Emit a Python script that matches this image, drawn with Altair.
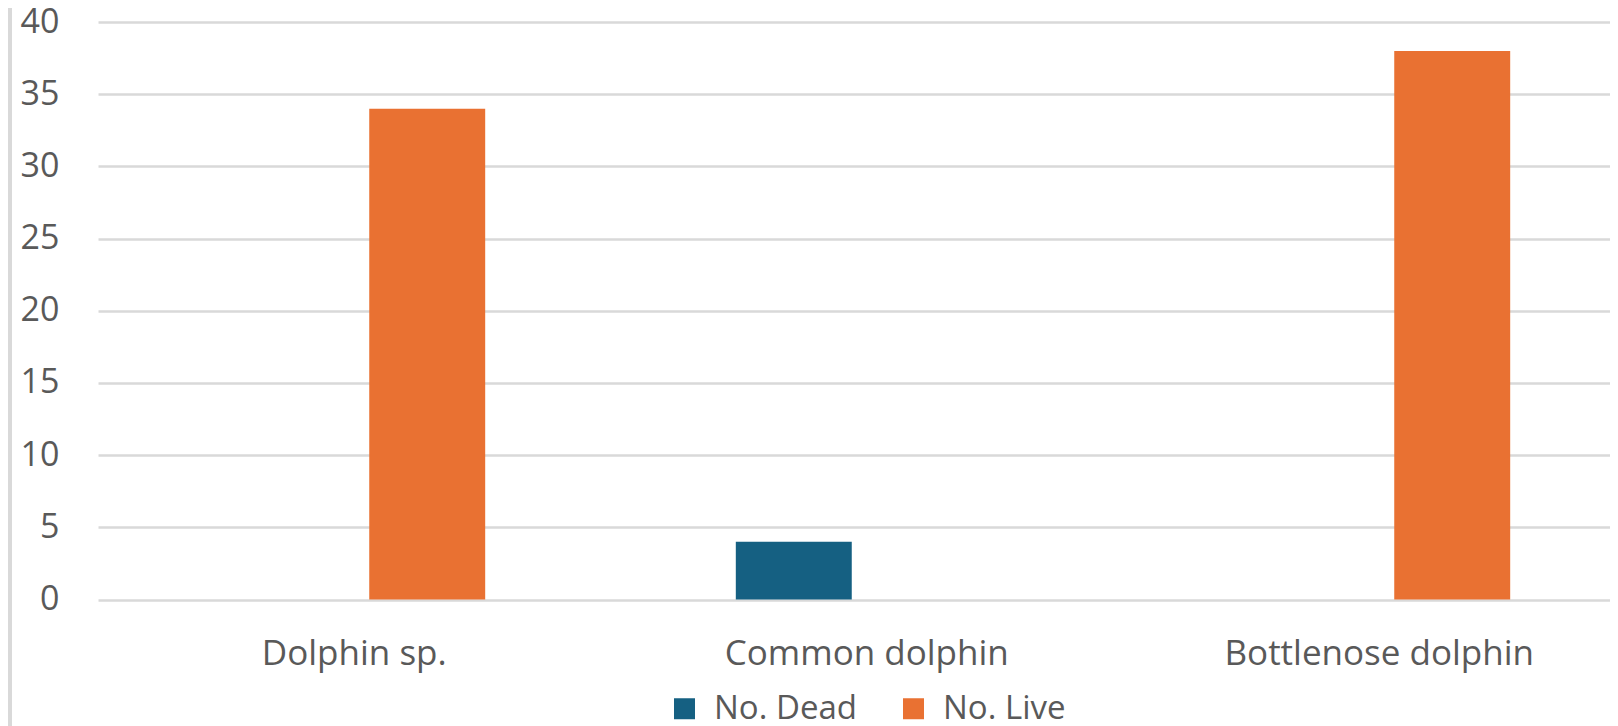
import altair as alt
import pandas as pd

categories = ["Dolphin sp.", "Common dolphin", "Bottlenose dolphin"]
series = ["No. Dead", "No. Live"]
dead = [0, 4, 0]
live = [34, 0, 38]
y_ticks = [0, 5, 10, 15, 20, 25, 30, 35, 40]
colors = ["#156082", "#E97132"]

rows = []
for c, d, l in zip(categories, dead, live):
    rows.append({"category": c, "series": series[0], "value": d})
    rows.append({"category": c, "series": series[1], "value": l})
df = pd.DataFrame(rows)

FONT = "Open Sans"
TXT = "#595959"
GRID = "#d9d9d9"

W = 1512
H = 577.5

bars = alt.Chart(df).mark_bar().encode(
    x=alt.X(
        "category:N",
        sort=categories,
        scale=alt.Scale(range=[0, 1537.5], paddingInner=0.489, paddingOuter=0.2445),
        axis=alt.Axis(
            title=None, domain=False, ticks=False, labelFontSize=35, labelFont=FONT,
            labelColor=TXT, labelPadding=37, labelAngle=0, labelLimit=0,
        ),
    ),
    xOffset=alt.XOffset(
        "series:N", sort=series,
        scale=alt.Scale(paddingInner=0.2055, paddingOuter=0),
    ),
    y=alt.Y(
        "value:Q",
        scale=alt.Scale(domain=[0, 40], nice=False),
        axis=alt.Axis(
            title=None, values=y_ticks, domain=False, ticks=False,
            grid=True, gridColor=GRID, gridWidth=2.5,
            labelFontSize=34, labelFont=FONT, labelColor=TXT,
            labelPadding=39, minExtent=90, maxExtent=90,
        ),
    ),
    color=alt.Color(
        "series:N",
        scale=alt.Scale(domain=series, range=colors),
        legend=alt.Legend(
            title=None, orient="none", direction="horizontal",
            legendX=570, legendY=670, padding=0,
            symbolType="square", symbolSize=441, symbolStrokeWidth=0,
            labelFontSize=33, labelFont=FONT, labelColor=TXT,
            labelOffset=13, columnPadding=40, labelLimit=0,
        ),
    ),
)

edge = alt.Chart(pd.DataFrame({"v": [0]})).mark_rule(color="#d9d9d9", strokeWidth=4).encode(
    x=alt.value(-88), y=alt.value(-14), y2=alt.value(H + 140)
)

chart = alt.layer(edge, bars).properties(
    width=W,
    height=H,
    autosize=alt.AutoSizeParams(type="none"),
    padding={"left": 90, "top": 14, "right": 0, "bottom": 140},
).configure_view(stroke=None)

chart.save("out.html", embed_options={"renderer": "svg", "actions": False})
